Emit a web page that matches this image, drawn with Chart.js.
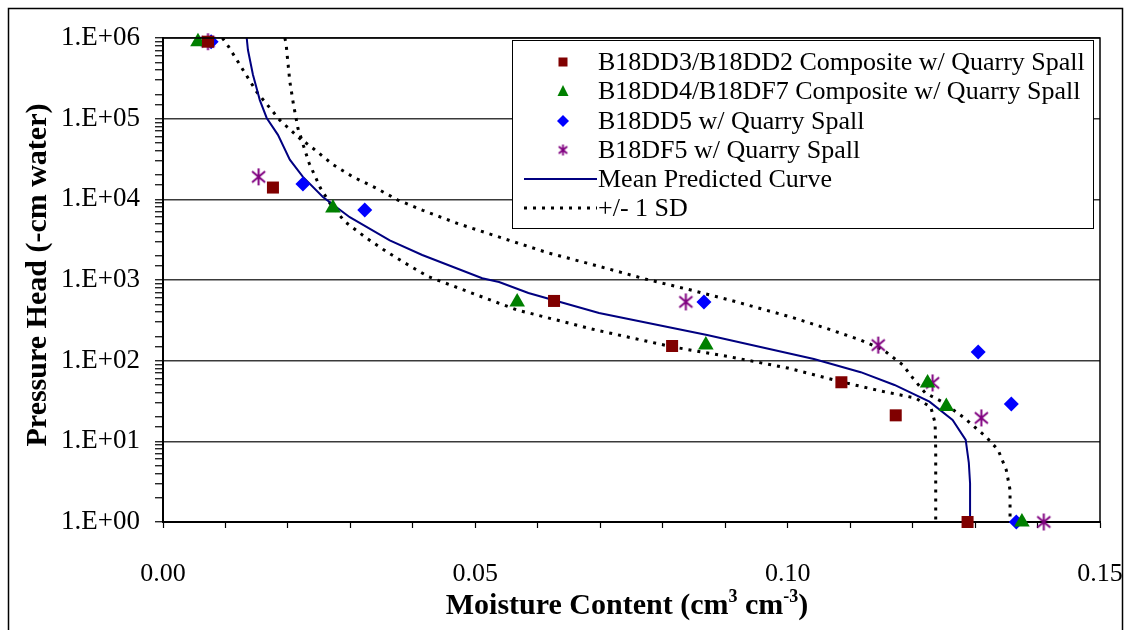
<!DOCTYPE html>
<html>
<head>
<meta charset="utf-8">
<script src="https://cdn.jsdelivr.net/npm/chart.js@4.4.0/dist/chart.umd.min.js"></script>
<style>
html, body { margin: 0; padding: 0; background: #ffffff; }
canvas { display: block; }
</style>
</head>
<body>
<canvas id="RetentionChart" width="1125" height="630"></canvas>
<script>
// measured samples: moisture content (cm3/cm3) vs pressure head (-cm water)
var DD3_Theta = [0.0072, 0.0176, 0.0626, 0.0815, 0.1086, 0.1173, 0.1288];
var DD3_Head  = [9.0e5, 1.4e4, 550, 152, 54, 21, 1];

var DD4_Theta = [0.0056, 0.0272, 0.0567, 0.0869, 0.1224, 0.1254, 0.1375];
var DD4_Head  = [9.0e5, 7.8e3, 535, 156, 53, 27, 1];

var DD5_Theta = [0.0077, 0.0224, 0.0323, 0.0866, 0.1305, 0.1358, 0.1366];
var DD5_Head  = [9.0e5, 1.55e4, 7.4e3, 535, 128, 29, 1];

var DF5_Theta = [0.0072, 0.0153, 0.0837, 0.1145, 0.1232, 0.1310, 0.1410];
var DF5_Head  = [9.0e5, 1.9e4, 535, 156, 53, 19.5, 1];

// predicted curves
var Mean_Theta = [0.0134, 0.0136, 0.0144, 0.0155, 0.0166, 0.0184, 0.0203, 0.0224, 0.0256, 0.0299, 0.0363, 0.0415, 0.0511, 0.0538, 0.0585, 0.0698, 0.0871, 0.1042, 0.1117, 0.1171, 0.1227, 0.1264, 0.1285, 0.1290, 0.1292, 0.1292];
var Mean_Head  = [1e6, 7.1e5, 3.5e5, 1.7e5, 1.02e5, 6.3e4, 3.1e4, 1.9e4, 1.07e4, 6.0e3, 3.1e3, 2.04e3, 1.05e3, 944, 690, 390, 208, 105, 72, 50, 31, 18.4, 10.4, 5.4, 3.0, 1];

var LowSD_Theta = [0.0095, 0.0105, 0.0150, 0.0187, 0.0222, 0.0234, 0.0252, 0.0267, 0.0291, 0.0326, 0.0358, 0.0393, 0.0425, 0.0503, 0.0567, 0.0616, 0.0693, 0.0816, 0.0909, 0.1000, 0.1093, 0.1156, 0.1204, 0.1229, 0.1236, 0.1237, 0.1237];
var LowSD_Head  = [1e6, 7.8e5, 2.15e5, 9.6e4, 5.4e4, 2.8e4, 1.38e4, 9.0e3, 5.3e3, 3.3e3, 2.24e3, 1.53e3, 1.1e3, 650, 425, 340, 240, 148, 111, 81, 53, 41, 34.5, 26.7, 16.9, 7.8, 1];

var HighSD_Theta = [0.0195, 0.0197, 0.0199, 0.0203, 0.0209, 0.0216, 0.0222, 0.0240, 0.0272, 0.0304, 0.0341, 0.0376, 0.0416, 0.0472, 0.0549, 0.0618, 0.0679, 0.0772, 0.0845, 0.0907, 0.1005, 0.1061, 0.1117, 0.1153, 0.1184, 0.1201, 0.1220, 0.1247, 0.1281, 0.1318, 0.1337, 0.1350, 0.1356, 0.1356];
var HighSD_Head  = [1e6, 8.6e5, 5.9e5, 2.9e5, 1.48e5, 7.6e4, 5.5e4, 4.3e4, 2.7e4, 1.9e4, 1.38e4, 9.8e3, 7.3e3, 5.0e3, 3.2e3, 2.15e3, 1.62e3, 1.03e3, 750, 565, 348, 253, 180, 136, 89, 60, 40, 31, 20, 11.3, 7.8, 4.4, 2.5, 1];

var SeriesNames = [
    'B18DD3/B18DD2 Composite w/ Quarry Spall',
    'B18DD4/B18DF7 Composite w/ Quarry Spall',
    'B18DD5 w/ Quarry Spall',
    'B18DF5 w/ Quarry Spall',
    'Mean Predicted Curve',
    '+/- 1 SD'
];

var XTickLabels = ['0.00', '0.05', '0.10', '0.15'];
var YTickLabels = ['1.E+00', '1.E+01', '1.E+02', '1.E+03', '1.E+04', '1.E+05', '1.E+06'];

var SERIF = "'Liberation Serif', 'Times New Roman', serif";

function pairUp(xs, ys) {
    var out = [];
    for (var i = 0; i < xs.length; i++) out.push({ x: xs[i], y: ys[i] });
    return out;
}

function makeAsterisk(size, color, lw) {
    var c = document.createElement('canvas');
    c.width = size; c.height = size;
    var g = c.getContext('2d');
    var m = size / 2, r = size / 2 - 1;
    var a = 40 * Math.PI / 180;
    g.strokeStyle = color;
    g.lineWidth = lw;
    g.beginPath();
    g.moveTo(m, m - r); g.lineTo(m, m + r);
    g.moveTo(m - r * Math.cos(a), m - r * Math.sin(a)); g.lineTo(m + r * Math.cos(a), m + r * Math.sin(a));
    g.moveTo(m - r * Math.cos(a), m + r * Math.sin(a)); g.lineTo(m + r * Math.cos(a), m - r * Math.sin(a));
    g.stroke();
    return c;
}

var AsteriskBig = makeAsterisk(19, '#800080', 2);
var AsteriskSmall = makeAsterisk(13, '#800080', 1.8);

// frame, titles and the boxed legend inside the plot
var decorPlugin = {
    id: 'decor',
    afterDraw: function (chart) {
        var ctx = chart.ctx, area = chart.chartArea;
        ctx.save();

        // plot frame top/right
        ctx.strokeStyle = '#000';
        ctx.lineWidth = 1.5;
        ctx.beginPath();
        ctx.moveTo(area.left, area.top);
        ctx.lineTo(area.right, area.top);
        ctx.lineTo(area.right, area.bottom);
        ctx.stroke();

        // outer frame
        ctx.lineWidth = 1.5;
        ctx.strokeRect(8.5, 8.5, 1114, 640);

        // y title
        ctx.fillStyle = '#000';
        ctx.font = 'bold 30px ' + SERIF;
        ctx.textAlign = 'center';
        ctx.textBaseline = 'middle';
        ctx.save();
        ctx.translate(38, 275);
        ctx.rotate(-Math.PI / 2);
        ctx.fillText('Pressure Head (-cm water)', 0, 0);
        ctx.restore();

        // x title with superscripts
        var parts = [
            { t: 'Moisture Content (cm', sup: false },
            { t: '3', sup: true },
            { t: ' cm', sup: false },
            { t: '-3', sup: true },
            { t: ')', sup: false }
        ];
        var normalFont = 'bold 30px ' + SERIF, supFont = 'bold 18px ' + SERIF;
        var total = 0;
        parts.forEach(function (p) {
            ctx.font = p.sup ? supFont : normalFont;
            p.w = ctx.measureText(p.t).width;
            total += p.w;
        });
        var x = 627 - total / 2, base = 614;
        ctx.textAlign = 'left';
        ctx.textBaseline = 'alphabetic';
        parts.forEach(function (p) {
            ctx.font = p.sup ? supFont : normalFont;
            ctx.fillText(p.t, x, p.sup ? base - 12 : base);
            x += p.w;
        });

        // legend
        var lx = 512.5, ly = 40.5, lw = 581, lh = 188;
        ctx.fillStyle = '#fff';
        ctx.fillRect(lx, ly, lw, lh);
        ctx.strokeStyle = '#000';
        ctx.lineWidth = 1;
        ctx.strokeRect(lx, ly, lw, lh);

        var rowY = [62, 91, 121, 150, 179, 208];
        var mx = 563;
        ctx.font = '26px ' + SERIF;
        ctx.textBaseline = 'middle';
        ctx.fillStyle = '#000';
        SeriesNames.forEach(function (name, i) {
            ctx.fillText(name, 598, rowY[i] + 1);
        });

        // markers
        ctx.fillStyle = '#800000';
        ctx.fillRect(mx - 4.5, rowY[0] - 4.5, 9, 9);

        ctx.fillStyle = '#008000';
        ctx.beginPath();
        ctx.moveTo(mx, rowY[1] - 6);
        ctx.lineTo(mx + 5.5, rowY[1] + 5);
        ctx.lineTo(mx - 5.5, rowY[1] + 5);
        ctx.closePath();
        ctx.fill();

        ctx.fillStyle = '#0000ff';
        ctx.beginPath();
        ctx.moveTo(mx, rowY[2] - 6);
        ctx.lineTo(mx + 6, rowY[2]);
        ctx.lineTo(mx, rowY[2] + 6);
        ctx.lineTo(mx - 6, rowY[2]);
        ctx.closePath();
        ctx.fill();

        ctx.drawImage(AsteriskSmall, mx - 6.5, rowY[3] - 6.5);

        ctx.strokeStyle = '#000080';
        ctx.lineWidth = 2;
        ctx.beginPath();
        ctx.moveTo(524, rowY[4]);
        ctx.lineTo(597, rowY[4]);
        ctx.stroke();

        ctx.strokeStyle = '#000';
        ctx.lineWidth = 3;
        ctx.setLineDash([3, 6]);
        ctx.beginPath();
        ctx.moveTo(524, rowY[5]);
        ctx.lineTo(597, rowY[5]);
        ctx.stroke();

        ctx.restore();
    }
};

function isDecade(v) {
    var e = Math.log10(v);
    return Math.abs(e - Math.round(e)) < 1e-9;
}

var ctx = document.getElementById('RetentionChart').getContext('2d');
new Chart(ctx, {
    type: 'scatter',
    data: {
        datasets: [
            {
                label: SeriesNames[0],
                data: pairUp(DD3_Theta, DD3_Head),
                pointStyle: 'rect',
                pointRadius: 8.5,
                backgroundColor: '#800000',
                borderColor: '#800000',
                borderWidth: 0,
                clip: false
            },
            {
                label: SeriesNames[1],
                data: pairUp(DD4_Theta, DD4_Head),
                pointStyle: 'triangle',
                pointRadius: 9,
                backgroundColor: '#008000',
                borderColor: '#008000',
                borderWidth: 0,
                clip: false
            },
            {
                label: SeriesNames[2],
                data: pairUp(DD5_Theta, DD5_Head),
                pointStyle: 'rectRot',
                pointRadius: 7.5,
                backgroundColor: '#0000ff',
                borderColor: '#0000ff',
                borderWidth: 0,
                clip: false
            },
            {
                label: SeriesNames[3],
                data: pairUp(DF5_Theta, DF5_Head),
                pointStyle: AsteriskBig,
                pointRadius: 9,
                backgroundColor: '#800080',
                borderColor: '#800080',
                clip: false
            },
            {
                label: SeriesNames[4],
                data: pairUp(Mean_Theta, Mean_Head),
                showLine: true,
                pointRadius: 0,
                borderColor: '#000080',
                borderWidth: 2,
                tension: 0,
                fill: false
            },
            {
                label: SeriesNames[5],
                data: pairUp(LowSD_Theta, LowSD_Head),
                showLine: true,
                pointRadius: 0,
                borderColor: '#000000',
                borderWidth: 3,
                borderDash: [3, 6],
                tension: 0,
                fill: false
            },
            {
                label: SeriesNames[5] + ' (upper)',
                data: pairUp(HighSD_Theta, HighSD_Head),
                showLine: true,
                pointRadius: 0,
                borderColor: '#000000',
                borderWidth: 3,
                borderDash: [3, 6],
                tension: 0,
                fill: false
            }
        ]
    },
    options: {
        responsive: false,
        animation: false,
        events: [],
        layout: {
            padding: { left: 0, top: 38, right: 25, bottom: 0 }
        },
        plugins: {
            legend: { display: false },
            tooltip: { enabled: false },
            title: { display: false }
        },
        scales: {
            x: {
                type: 'linear',
                min: 0,
                max: 0.15,
                afterFit: function (scale) {
                    scale.height = 108;
                    scale.paddingLeft = 0;
                    scale.paddingRight = 0;
                },
                border: { color: '#000', width: 2 },
                grid: {
                    drawOnChartArea: false,
                    drawTicks: true,
                    tickLength: 6,
                    tickColor: '#000',
                    tickWidth: 1.2
                },
                ticks: {
                    stepSize: 0.01,
                    autoSkip: false,
                    maxRotation: 0,
                    padding: 31,
                    color: '#000',
                    font: { family: SERIF, size: 26 },
                    callback: function (value) {
                        var n = Math.round(value * 100);
                        return n % 5 === 0 ? XTickLabels[n / 5] : '';
                    }
                }
            },
            y: {
                type: 'logarithmic',
                min: 1,
                max: 1e6,
                afterFit: function (scale) {
                    scale.width = 163;
                    scale.paddingTop = 0;
                    scale.paddingBottom = 0;
                },
                border: { color: '#000', width: 2 },
                grid: {
                    drawTicks: true,
                    tickLength: 8,
                    tickColor: '#000',
                    tickWidth: 1.2,
                    lineWidth: 1.5,
                    color: function (c) {
                        return c.tick && isDecade(c.tick.value) ? '#3a3a3a' : 'rgba(0,0,0,0)';
                    }
                },
                ticks: {
                    autoSkip: false,
                    padding: 15,
                    color: '#000',
                    font: { family: SERIF, size: 27 },
                    callback: function (value) {
                        return isDecade(value) ? YTickLabels[Math.round(Math.log10(value))] : '';
                    }
                }
            }
        }
    },
    plugins: [decorPlugin]
});
</script>
</body>
</html>
